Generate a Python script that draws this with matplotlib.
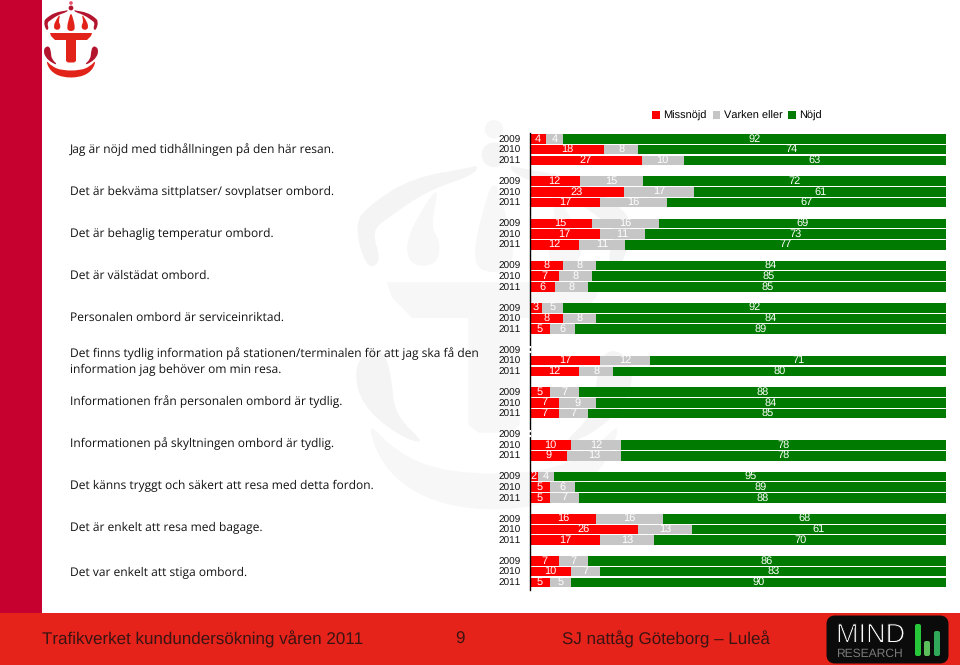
import numpy as np
import matplotlib
matplotlib.use("Agg")
import matplotlib.pyplot as plt
import matplotlib.patheffects as pe
from matplotlib.path import Path
from matplotlib.patches import PathPatch, Polygon, Rectangle, FancyBboxPatch, Circle

plt.rcParams["text.hinting"] = "no_hinting"
plt.rcParams["text.hinting_factor"] = 1

years = ["2009", "2010", "2011"]
questions = [
    "Jag är nöjd med tidhållningen på den här resan.",
    "Det är bekväma sittplatser/ sovplatser ombord.",
    "Det är behaglig temperatur ombord.",
    "Det är välstädat ombord.",
    "Personalen ombord är serviceinriktad.",
    "Det finns tydlig information på stationen/terminalen för att jag ska få den\ninformation jag behöver om min resa.",
    "Informationen från personalen ombord är tydlig.",
    "Informationen på skyltningen ombord är tydlig.",
    "Det känns tryggt och säkert att resa med detta fordon.",
    "Det är enkelt att resa med bagage.",
    "Det var enkelt att stiga ombord.",
]
missnojd = [4, 18, 27, 12, 23, 17, 15, 17, 12, 8, 7, 6, 3, 8, 5, None, 17, 12,
            5, 7, 7, None, 10, 9, 2, 5, 5, 16, 26, 17, 7, 10, 5]
varken = [4, 8, 10, 15, 17, 16, 16, 11, 11, 8, 8, 8, 5, 8, 6, None, 12, 8,
          7, 9, 7, None, 12, 13, 4, 6, 7, 16, 13, 13, 7, 7, 5]
nojd = [92, 74, 63, 72, 61, 67, 69, 73, 77, 84, 85, 85, 92, 84, 89, None, 71, 80,
        88, 84, 85, None, 78, 78, 95, 89, 88, 68, 61, 70, 86, 83, 90]

RED, GREY, GREEN = "#FF0000", "#C6C6C6", "#007A00"
ARIAL = "Liberation Sans"
W, H = 960, 665

fig = plt.figure(figsize=(9.6, 6.65), dpi=100, facecolor="white")

# background layer in pixel coordinates
bg = fig.add_axes([0, 0, 1, 1], zorder=0)
bg.set_xlim(0, W)
bg.set_ylim(H, 0)
bg.axis("off")


def smooth(pts, **kw):
    pts = np.asarray(pts, float)
    n = len(pts)
    verts = [(pts[0] + pts[1]) / 2]
    codes = [Path.MOVETO]
    for i in range(n):
        verts += [pts[(i + 1) % n], (pts[(i + 1) % n] + pts[(i + 2) % n]) / 2]
        codes += [Path.CURVE3, Path.CURVE3]
    return PathPatch(Path(verts, codes), lw=0, **kw)


def mirror(pts):
    return [(142 - x, y) for x, y in pts]


OUTER = [(68, 10), (66, 10.6), (55, 12.5), (47, 17.5), (43.5, 21.5), (46, 30.5), (49, 29),
         (47, 23), (50, 20.5), (58, 15), (67, 12)]
INNER = [(60.5, 13.5), (56, 20), (53.5, 26), (55, 30), (60, 29.5), (60.5, 25), (58.5, 22)]
CENTRE = [(71, 12), (68.5, 20), (67, 27), (68, 31), (74, 31), (75, 27), (73.5, 20)]
LOWER = [(46, 46.5), (43.5, 50), (45, 57), (52, 63), (58, 65), (51.5, 59), (51, 52), (49.5, 46.5)]
ARC = [(45.5, 59.5), (50, 71), (62, 77.5), (80, 77.5), (92, 71), (96.5, 59.5), (90, 66.5),
       (80, 70.5), (62, 70.5), (52, 66.5)]
TEE = [(50, 33), (92, 33), (91, 36), (87, 40), (76, 40), (76, 61), (74, 62.5), (68, 62.5),
       (66, 61), (66, 40), (55, 40), (51, 36)]


def emblem(cx, top, k, dark, light, zorder):
    def tr(pts):
        return [(cx + (x - 71) * k, top + (y - 10) * k) for x, y in pts]
    for pts, c in [(OUTER, dark), (mirror(OUTER), dark), (INNER, light), (mirror(INNER), light),
                   (CENTRE, light), (LOWER, dark), (mirror(LOWER), dark), (ARC, light)]:
        bg.add_patch(smooth(tr(pts), facecolor=c, zorder=zorder))
    bg.add_patch(Polygon(tr(TEE), closed=True, facecolor=light, lw=0, zorder=zorder))
    bg.add_patch(Circle(tr([(71, 8)])[0], 2.4 * k, facecolor=dark, lw=0, zorder=zorder))
    bg.add_patch(Circle(tr([(71, 3)])[0], 1.8 * k, facecolor="#E8506A" if k == 1 else light, lw=0, zorder=zorder))


emblem(494, 165, 5.1, "#F4F4F4", "#F7F7F7", 1)  # watermark
emblem(71, 10, 1.0, "#B3142E", "#E2231A", 3)    # logo

bg.add_patch(Rectangle((0, 0), 42, 613, facecolor="#C6002F", lw=0, zorder=2))
bg.add_patch(Rectangle((0, 613), W, 52, facecolor="#E5231B", lw=0, zorder=2))

foot = dict(family=ARIAL, fontsize=12.3, color="#3A1412", va="center", zorder=4)
bg.text(42, 639, "Trafikverket kundundersökning våren 2011", ha="left", **foot)
bg.text(460, 639, "9", ha="center", **foot)
bg.text(562, 639, "SJ nattåg Göteborg – Luleå", ha="left", **foot)

bg.add_patch(FancyBboxPatch((830, 619), 115, 41, boxstyle="round,pad=0,rounding_size=5",
                            facecolor="#0B0B0B", edgecolor="#0B0B0B", lw=5, zorder=3))
bg.text(836, 642.5, "MIND", family=ARIAL, fontsize=19.5, color="white", va="baseline", ha="left", zorder=4,
        path_effects=[pe.Stroke(linewidth=0.7, foreground="#0B0B0B")])
bg.text(836, 657, "RESEARCH", family=ARIAL, fontsize=8.6, color="#7A7A7A", va="baseline", ha="left", zorder=4)
for x0, y0, c in [(915, 624, "#27C73A"), (924, 641, "#5BBE5A"), (934, 631, "#2FA85A")]:
    bg.add_patch(FancyBboxPatch((x0, y0), 6, 656 - y0, boxstyle="round,pad=0,rounding_size=2",
                                facecolor=c, lw=0, zorder=4))

# question labels
label_y = [149.5, 191.5, 233.5, 275.5, 317.5, 362, 401.5, 443.5, 485.5, 527.5, 572.5]
for q, y in zip(questions, label_y):
    bg.text(70, y, q, family="Open Sans", fontsize=8.7, color="#111111", va="center", ha="left",
            linespacing=1.42, zorder=4)

# chart
top_px, bottom_px, left_px, right_px = 133, 590, 529.5, 946
ax = fig.add_axes([left_px / W, 1 - bottom_px / H, (right_px - left_px) / W, (bottom_px - top_px) / H], zorder=5)
ax.patch.set_alpha(0)
row_px = 10.68
group_px = 42.2
first_row_px = 6
positions = np.array([(g * group_px + j * row_px + first_row_px) / row_px
                      for g in range(len(questions)) for j in range(3)])
ax.set_xlim(0, 100)
ax.set_ylim((bottom_px - top_px) / row_px, 0)

for y, a, b, c in zip(positions, missnojd, varken, nojd):
    if a is None:
        ax.plot([0, 0], [y - 0.4, y + 0.4], color="white", lw=1.6, ls=(0, (1, 1.2)), zorder=6, clip_on=False)
        continue
    total = a + b + c
    left = 0
    for v, col in zip((a, b, c), (RED, GREY, GREEN)):
        w = v / total * 100
        ax.barh(y, w, left=left, height=0.9, color=col, lw=0, zorder=3)
        ax.text(left + w / 2, y - 0.03, str(v), ha="center", va="center", color="white",
                family=ARIAL, fontsize=7.6, zorder=4)
        left += w

ax.set_yticks(positions)
ax.set_yticklabels(years * len(questions), family=ARIAL, fontsize=7.1, color="#111111")
ax.tick_params(axis="y", length=0, pad=6)
ax.tick_params(axis="x", bottom=False, labelbottom=False)
for s in ("top", "right", "bottom"):
    ax.spines[s].set_visible(False)
ax.spines["left"].set_linewidth(1.0)
ax.spines["left"].set_color("black")
ax.spines["left"].set_zorder(5)

handles = [Rectangle((0, 0), 1, 1, facecolor=c, lw=0) for c in (RED, GREY, GREEN)]
ax.legend(handles, ["Missnöjd", "Varken eller", "Nöjd"], ncol=3, frameon=False,
          loc="center right", bbox_to_anchor=((822 - left_px) / (right_px - left_px), 1 + (top_px - 116) / (bottom_px - top_px)),
          prop=dict(family=ARIAL, size=8.1), handlelength=0.7, handleheight=0.7, handletextpad=0.3,
          columnspacing=0.5, borderpad=0, borderaxespad=0)

fig.savefig("out.png", dpi=100, facecolor="white")
